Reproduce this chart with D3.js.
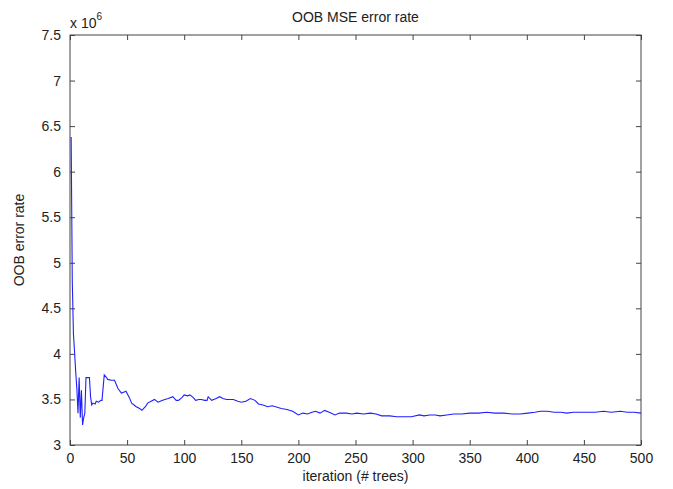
<!DOCTYPE html>
<html>
<head>
<meta charset="utf-8">
<script src="https://cdn.jsdelivr.net/npm/d3@7"></script>
<style>
  html, body { margin: 0; background: #fff; overflow: hidden; }
  svg { display: block; }
  text { font-family: "Liberation Sans", Arial, sans-serif; fill: #222; }
</style>
</head>
<body>
<svg></svg>
<script>
// iteration (# trees) and OOB MSE (in units of 1e6)
const trees = [1, 2, 3, 4, 5, 6, 7, 8, 9, 10, 11, 12, 13, 14, 16, 17, 18, 19, 20, 22, 23, 25, 27, 28, 30,
  32, 33, 36, 39, 42, 45, 47, 49, 52, 54, 58, 61, 63, 66, 68, 71, 74, 77, 79, 83, 86, 90, 93, 95,
  98, 100, 103, 105, 108, 110, 113, 115, 118, 120, 121, 124, 128, 131, 134, 137, 140, 143, 147, 150,
  154, 158, 162, 165, 169, 173, 177, 180, 185, 190, 195, 200, 204, 208, 212, 215, 219, 223, 227, 232,
  236, 242, 247, 251, 257, 263, 268, 273, 280, 286, 292, 299, 306, 310, 315, 320, 324, 330, 336,
  343, 350, 358, 365, 372, 380, 387, 394, 401, 407, 412, 418, 424, 430, 435, 441, 447, 453, 460,
  467, 474, 482, 488, 494, 500]
const mse = [6.38, 4.80, 4.22, 4.02, 3.80, 3.62, 3.35, 3.74, 3.30, 3.60, 3.22, 3.30, 3.35, 3.74, 3.74, 3.74, 3.53, 3.44, 3.46, 3.45, 3.48, 3.47, 3.49, 3.49, 3.77,
  3.74, 3.72, 3.71, 3.71, 3.62, 3.57, 3.58, 3.59, 3.52, 3.46, 3.42, 3.40, 3.38, 3.42, 3.46, 3.48, 3.50, 3.47, 3.48, 3.50, 3.51, 3.53, 3.49, 3.49,
  3.52, 3.55, 3.54, 3.55, 3.52, 3.49, 3.50, 3.50, 3.49, 3.49, 3.53, 3.49, 3.51, 3.53, 3.51, 3.50, 3.50, 3.50, 3.48, 3.47,
  3.48, 3.51, 3.49, 3.45, 3.44, 3.42, 3.43, 3.42, 3.40, 3.39, 3.37, 3.33, 3.35, 3.34, 3.36, 3.37, 3.35, 3.38, 3.36, 3.33,
  3.35, 3.35, 3.34, 3.35, 3.34, 3.35, 3.34, 3.32, 3.32, 3.31, 3.31, 3.31, 3.33, 3.32, 3.33, 3.33, 3.32, 3.33, 3.34,
  3.34, 3.35, 3.35, 3.36, 3.35, 3.35, 3.34, 3.34, 3.35, 3.36, 3.37, 3.37, 3.36, 3.36, 3.35, 3.36, 3.36, 3.36, 3.36,
  3.37, 3.36, 3.37, 3.36, 3.36, 3.35]
const xTicks = [0, 50, 100, 150, 200, 250, 300, 350, 400, 450, 500]
const yTicks = [3, 3.5, 4, 4.5, 5, 5.5, 6, 6.5, 7, 7.5]

const width = 673
const height = 489
const margin = { top: 35, bottom: 44, left: 70, right: 32 }
const innerWidth = width - margin.left - margin.right
const innerHeight = height - margin.top - margin.bottom

const svg = d3.select("svg").attr('width', width).attr('height', height)

const data = trees.map((t, i) => ({ tree: t, mse: mse[i] }))

const xScale = d3.scaleLinear().domain([0, 500]).range([0, innerWidth])
const yScale = d3.scaleLinear().domain([3, 7.5]).range([innerHeight, 0])

const g = svg.append('g').attr('transform', `translate(${margin.left},${margin.top})`)

const axisColor = '#444'
const styleAxis = sel => {
  sel.select('.domain').remove()
  sel.selectAll('line').attr('stroke', axisColor)
  sel.selectAll('text').attr('font-size', 14).style('fill', '#222')
}
// top and right: ticks only, no labels
const ticksOnly = sel => {
  styleAxis(sel)
  sel.selectAll('text').remove()
}

// frame
g.append('rect')
  .attr('width', innerWidth).attr('height', innerHeight)
  .attr('fill', 'none').attr('stroke', axisColor)

g.append('g')
  .attr('transform', `translate(0,${innerHeight})`)
  .call(d3.axisBottom(xScale).tickValues(xTicks).tickSizeInner(-5).tickSizeOuter(0).tickPadding(8))
  .call(styleAxis)

g.append('g')
  .call(d3.axisTop(xScale).tickValues(xTicks).tickSizeInner(-5).tickSizeOuter(0))
  .call(ticksOnly)

g.append('g')
  .call(d3.axisLeft(yScale).tickValues(yTicks).tickSizeInner(-5).tickSizeOuter(0).tickPadding(9).tickFormat(d3.format('~g')))
  .call(styleAxis)

g.append('g')
  .attr('transform', `translate(${innerWidth},0)`)
  .call(d3.axisRight(yScale).tickValues(yTicks).tickSizeInner(-5).tickSizeOuter(0))
  .call(ticksOnly)

const line = d3.line()
  .x(d => xScale(d.tree))
  .y(d => yScale(d.mse))

g.append('path')
  .datum(data)
  .attr('d', line)
  .attr('fill', 'none')
  .attr('stroke', '#1f1fff')
  .attr('stroke-width', 1.1)

// exponent
const ex = svg.append('text')
  .attr('x', margin.left).attr('y', 28)
  .attr('font-size', 14)
ex.append('tspan').text('x 10')
ex.append('tspan').attr('font-size', 10).attr('dy', -8).text('6')

svg.append('text')
  .attr('x', margin.left + innerWidth / 2).attr('y', 22)
  .attr('text-anchor', 'middle').attr('font-size', 14)
  .text('OOB MSE error rate')

svg.append('text')
  .attr('x', margin.left + innerWidth / 2).attr('y', 481)
  .attr('text-anchor', 'middle').attr('font-size', 14)
  .text('iteration (# trees)')

svg.append('text')
  .attr('transform', `translate(24,${margin.top + innerHeight / 2}) rotate(-90)`)
  .attr('text-anchor', 'middle').attr('font-size', 14)
  .text('OOB error rate')
</script>
</body>
</html>
